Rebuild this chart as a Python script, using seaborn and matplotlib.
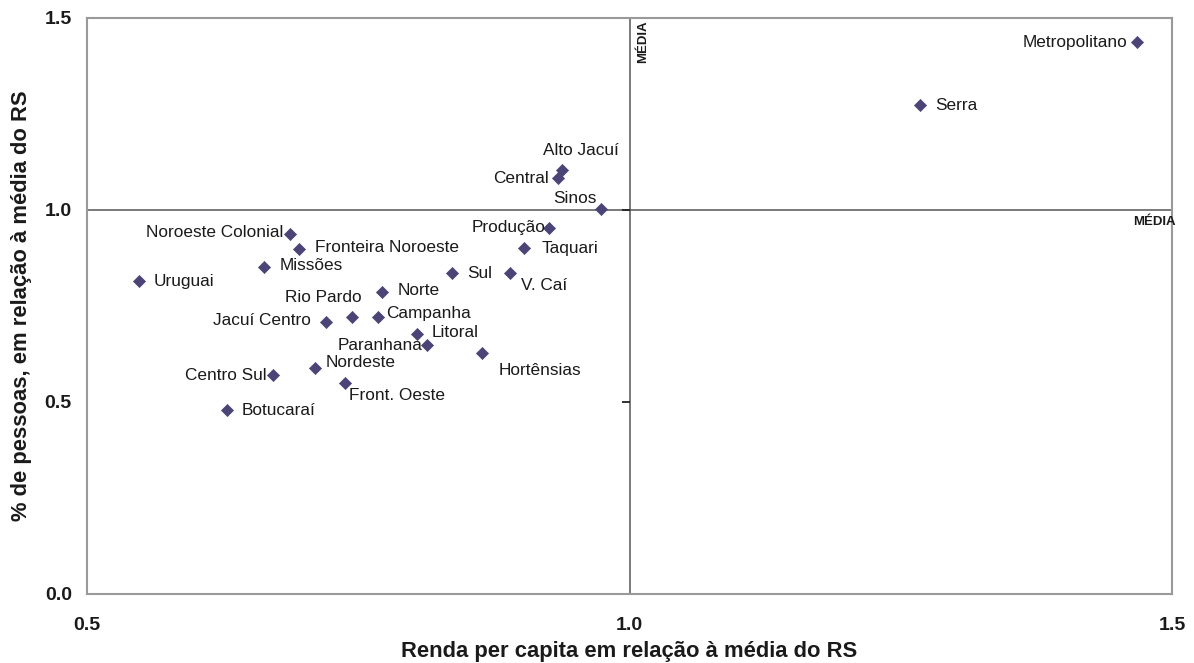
import matplotlib
matplotlib.use('Agg')
import matplotlib.pyplot as plt
import pandas as pd
import seaborn as sns

# Regiões (COREDEs) - renda per capita e % de pessoas em relação à média do RS
regioes = ['Metropolitano', 'Serra', 'Alto Jacuí', 'Central', 'Sinos', 'Produção',
           'Taquari', 'V. Caí', 'Sul', 'Noroeste Colonial', 'Fronteira Noroeste',
           'Missões', 'Uruguai', 'Norte', 'Rio Pardo', 'Jacuí Centro', 'Campanha',
           'Litoral', 'Paranhana', 'Hortênsias', 'Nordeste', 'Front. Oeste',
           'Centro Sul', 'Botucaraí']
renda = [1.468, 1.268, 0.938, 0.934, 0.974, 0.926,
         0.903, 0.890, 0.836, 0.687, 0.695,
         0.663, 0.548, 0.772, 0.744, 0.720, 0.768,
         0.804, 0.813, 0.864, 0.710, 0.738,
         0.671, 0.629]
pessoas = [1.437, 1.273, 1.104, 1.083, 1.002, 0.953,
           0.900, 0.835, 0.835, 0.937, 0.898,
           0.851, 0.814, 0.786, 0.721, 0.708, 0.721,
           0.676, 0.648, 0.627, 0.588, 0.549,
           0.569, 0.478]

# label offsets (pixels) and alignment
offsets = {
    'Metropolitano': (-10, 0, 'right'), 'Serra': (15, 0, 'left'),
    'Alto Jacuí': (19, 19, 'center'), 'Central': (-9, -1, 'right'),
    'Sinos': (-5, 11, 'right'), 'Produção': (-4, 0, 'right'),
    'Taquari': (17, 0, 'left'), 'V. Caí': (11, -12, 'left'),
    'Sul': (16, 0, 'left'), 'Noroeste Colonial': (-7, 1, 'right'),
    'Fronteira Noroeste': (16, 1, 'left'), 'Missões': (16, 1, 'left'),
    'Uruguai': (15, 0, 'left'), 'Norte': (15, 1, 'left'),
    'Rio Pardo': (10, 19, 'right'), 'Jacuí Centro': (-15, 1, 'right'),
    'Campanha': (8, 3, 'left'), 'Litoral': (15, 2, 'left'),
    'Paranhana': (-4, -1, 'right'), 'Hortênsias': (17, -18, 'left'),
    'Nordeste': (11, 5, 'left'), 'Front. Oeste': (4, -13, 'left'),
    'Centro Sul': (-6, 0, 'right'), 'Botucaraí': (15, 0, 'left'),
}

df = pd.DataFrame({'regiao': regioes, 'renda': renda, 'pessoas': pessoas})

sns.set_theme(style='white')
plt.rcParams['font.family'] = ['Liberation Sans', 'DejaVu Sans']

fig = plt.figure(figsize=(11.94, 6.63), dpi=100)
ax = fig.add_axes([0.0729, 0.1048, 0.9087, 0.8681])

ax.axhline(1.0, color='#555555', lw=1.1, zorder=1)
ax.axvline(1.0, color='#555555', lw=1.1, zorder=1)
# small tick marks on the central axis
ax.plot([1.0, 1.0, 1.0], [0.5, 1.0, 1.5], ls='none', marker=0, ms=6,
        color='#222222', mew=1.3, zorder=1, clip_on=False)

sns.scatterplot(data=df, x='renda', y='pessoas', marker='D', s=38,
                color='#4b4477', edgecolor='#4b4477', ax=ax, zorder=3)

for r, x, y in zip(regioes, renda, pessoas):
    dx, dy, ha = offsets[r]
    ax.annotate(r, (x, y), xytext=(dx, dy), textcoords='offset pixels',
                ha=ha, va='center', fontsize=12.4, color='#1a1a1a')

ax.text(1.0124, 1.495, 'MÉDIA', rotation=90, ha='center', va='top',
        fontsize=9.5, fontweight='bold', color='#1a1a1a')
ax.text(1.5037, 0.968, 'MÉDIA', ha='right', va='center',
        fontsize=9.5, fontweight='bold', color='#1a1a1a', clip_on=False)

ax.set_xlim(0.5, 1.5)
ax.set_ylim(0.0, 1.5)
ax.set_xticks([0.5, 1.0, 1.5])
ax.set_yticks([0.0, 0.5, 1.0, 1.5])
ax.set_xticklabels(['0.5', '1.0', '1.5'], fontweight='bold', fontsize=14)
ax.set_yticklabels(['0.0', '0.5', '1.0', '1.5'], fontweight='bold', fontsize=14)
ax.tick_params(axis='x', pad=17, length=0, colors='#1a1a1a')
ax.tick_params(axis='y', pad=11, length=0, colors='#1a1a1a')

ax.set_xlabel('Renda per capita em relação à média do RS', fontweight='bold',
              fontsize=15.8, color='#1a1a1a', labelpad=5)
ax.set_ylabel('% de pessoas, em relação à média do RS', fontweight='bold',
              fontsize=15.8, color='#1a1a1a', labelpad=9)

for s in ax.spines.values():
    s.set_color('#999999')
    s.set_linewidth(1.5)

fig.savefig('out.png', dpi=100)
